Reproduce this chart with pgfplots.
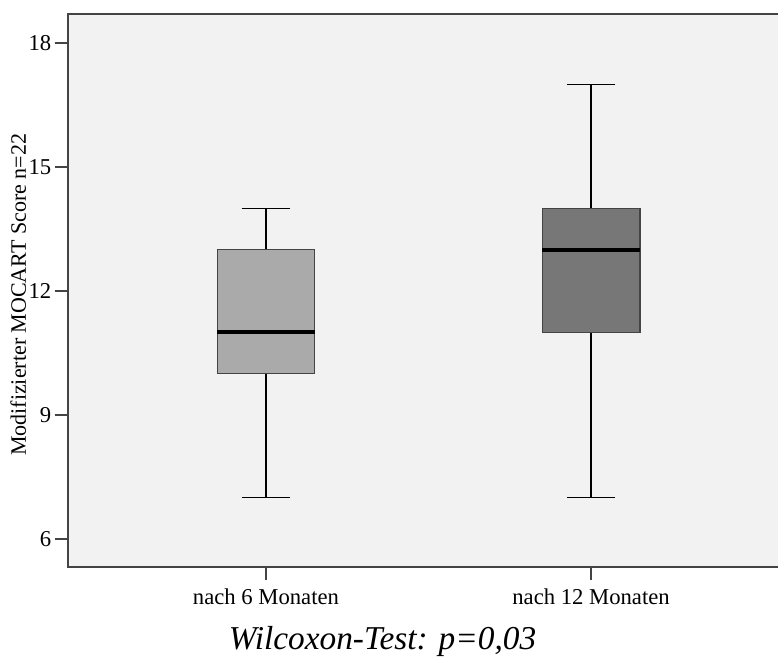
\documentclass[border=0pt]{standalone}
\usepackage{fontspec}
\setmainfont{Liberation Serif}
\usepackage{pgfplots}
\usepgfplotslibrary{statistics}
\pgfplotsset{compat=1.18}
\definecolor{panel}{HTML}{F2F2F2}
\definecolor{boxA}{HTML}{AAAAAA}
\definecolor{boxB}{HTML}{777777}
\definecolor{frame}{HTML}{444444}

\begin{document}
\begin{tikzpicture}
\useasboundingbox (-51pt,-67.5pt) rectangle (532.5pt,425.25pt);
\begin{axis}[
  at={(0,0)}, anchor=south west,
  scale only axis, width=532.5pt, height=414.75pt,
  xmin=0.391, xmax=2.575, ymin=5.32, ymax=18.70,
  xtick={1,2}, xticklabels={nach 6 Monaten, nach 12 Monaten},
  ytick={6,9,12,15,18},
  xtick pos=bottom, ytick pos=left, tick align=outside,
  major tick length=10pt,
  tick style={frame, line width=1pt},
  axis line style={draw=none},
  axis background/.style={fill=panel},
  /pgf/number format/assume math mode=true,
  ticklabel style={font=\fontsize{17}{20}\selectfont},
  xticklabel style={yshift=-3pt},
  yticklabel style={xshift=1pt},
  ylabel={Modifizierter MOCART Score n=22},
  ylabel style={font=\fontsize{16.5}{19}\selectfont, at={(axis description cs:-0.07,0.492)}, anchor=center},
  boxplot/draw direction=y,
  boxplot/every median/.style={black, line width=3pt},
  boxplot/every whisker/.style={black, line width=0.9pt},
  after end axis/.code={
    \draw[frame, line width=1.5pt] (rel axis cs:1,1) -- (rel axis cs:0,1) -- (rel axis cs:0,0) -- (rel axis cs:1,0);
  },
]
% nach 6 Monaten
\addplot+[boxplot prepared={lower whisker=7, lower quartile=10, median=11,
    upper quartile=13, upper whisker=14, draw position=1,
    box extend=0.3, whisker extend=0.148},
  solid, mark=none, draw=frame, fill=boxA, line width=1pt] coordinates {};
% nach 12 Monaten
\addplot+[boxplot prepared={lower whisker=7, lower quartile=11, median=13,
    upper quartile=14, upper whisker=17, draw position=2,
    box extend=0.3, whisker extend=0.148},
  solid, mark=none, draw=frame, fill=boxB, line width=1pt] coordinates {};
\end{axis}
\node[font=\itshape\fontsize{25}{29}\selectfont, anchor=base] at (235.9pt,-61.5pt) {Wilcoxon-Test: p=0,03};
\end{tikzpicture}
\end{document}
